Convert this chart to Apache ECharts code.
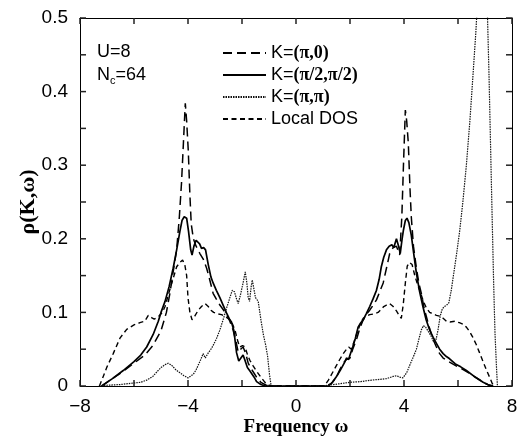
<!DOCTYPE html>
<html>
<head>
<meta charset="utf-8">
<script src="https://cdn.jsdelivr.net/npm/echarts@6/dist/echarts.min.js"></script>
<style>html,body{margin:0;padding:0;background:#fff}#c{width:532px;height:439px}</style>
</head>
<body>
<div id="c"></div>
<script>
// K=(pi,0)
const piZeroW = [-7.2,-6.8,-6.4,-6.0,-5.6,-5.3,-5.0,-4.8,-4.67,-4.55,-4.42,-4.32,-4.24,-4.17,-4.1,-4.05,-3.99,-3.93,-3.88,-3.8,-3.7,-3.56,-3.43,-3.31,-3.2,-3.07,-2.95,-2.82,-2.7,-2.57,-2.45,-2.33,-2.22,-2.14,-2.05,-1.96,-1.87,-1.77,-1.6,-1.46,-1.3,-1.1,-1.0,
  1.1,1.3,1.5,1.62,1.75,1.87,2.0,2.1,2.24,2.36,2.49,2.6,2.73,2.86,2.98,3.1,3.23,3.35,3.47,3.6,3.72,3.84,3.92,3.98,4.05,4.1,4.16,4.22,4.27,4.35,4.46,4.55,4.64,4.75,4.83,4.95,5.08,5.2,5.32,5.45,5.57,5.8,6.0,6.3,6.6,6.9,7.1,7.3];
const piZeroV = [0,0.01,0.02,0.031,0.042,0.055,0.075,0.1,0.126,0.155,0.185,0.23,0.276,0.33,0.384,0.36,0.32,0.26,0.22,0.2,0.19,0.18,0.172,0.16,0.145,0.126,0.118,0.11,0.104,0.097,0.088,0.076,0.06,0.046,0.05,0.053,0.045,0.031,0.02,0.012,0.005,0.001,0,
  0,0.003,0.012,0.022,0.031,0.036,0.038,0.05,0.063,0.078,0.09,0.097,0.103,0.11,0.117,0.128,0.14,0.16,0.18,0.188,0.19,0.178,0.23,0.3,0.375,0.36,0.33,0.27,0.23,0.19,0.16,0.14,0.126,0.105,0.094,0.078,0.063,0.053,0.044,0.038,0.035,0.03,0.026,0.02,0.013,0.006,0.002,0];

// K=(pi/2,pi/2)
const piHalfW = [-7.2,-6.8,-6.4,-6.0,-5.75,-5.53,-5.29,-5.1,-5.0,-4.85,-4.7,-4.55,-4.42,-4.3,-4.22,-4.14,-4.05,-3.98,-3.9,-3.85,-3.78,-3.7,-3.64,-3.57,-3.5,-3.42,-3.35,-3.25,-3.15,-3.07,-2.95,-2.82,-2.7,-2.57,-2.45,-2.39,-2.3,-2.2,-2.12,-2.05,-1.96,-1.9,-1.8,-1.7,-1.55,-1.46,-1.3,-1.15,
  1.2,1.35,1.5,1.65,1.8,1.87,1.95,2.0,2.1,2.2,2.3,2.4,2.49,2.6,2.73,2.85,2.98,3.08,3.16,3.25,3.35,3.45,3.55,3.62,3.72,3.8,3.86,3.93,3.98,4.05,4.11,4.18,4.27,4.36,4.46,4.58,4.7,4.82,4.95,5.08,5.2,5.32,5.45,5.57,5.69,5.9,6.1,6.31,6.6,6.93,7.15,7.3];
const piHalfV = [0,0.01,0.021,0.033,0.042,0.053,0.07,0.088,0.1,0.115,0.135,0.16,0.185,0.21,0.225,0.23,0.228,0.21,0.185,0.178,0.19,0.198,0.2,0.193,0.187,0.188,0.185,0.165,0.148,0.14,0.13,0.12,0.11,0.099,0.09,0.087,0.075,0.045,0.034,0.035,0.042,0.036,0.025,0.02,0.012,0.006,0.002,0,
  0,0.005,0.013,0.022,0.032,0.038,0.036,0.042,0.053,0.065,0.08,0.086,0.09,0.098,0.108,0.118,0.13,0.145,0.162,0.175,0.185,0.19,0.192,0.188,0.2,0.19,0.18,0.2,0.212,0.225,0.228,0.222,0.205,0.18,0.153,0.128,0.108,0.09,0.076,0.066,0.058,0.05,0.044,0.04,0.037,0.03,0.026,0.021,0.013,0.005,0.001,0];

// K=(pi,pi)
const piPiW = [-7.3,-7.0,-6.5,-6.03,-5.75,-5.53,-5.3,-5.16,-5.0,-4.85,-4.73,-4.6,-4.45,-4.3,-4.15,-4.0,-3.93,-3.8,-3.7,-3.55,-3.44,-3.36,-3.25,-3.15,-3.07,-2.95,-2.82,-2.7,-2.57,-2.45,-2.36,-2.28,-2.2,-2.14,-2.05,-1.96,-1.88,-1.82,-1.77,-1.72,-1.66,-1.62,-1.56,-1.5,-1.4,-1.3,-1.21,-1.12,-1.05,-0.98,-0.92,
  0.95,1.2,1.6,2.0,2.4,2.8,3.1,3.35,3.6,3.72,3.85,3.96,4.1,4.21,4.35,4.46,4.56,4.64,4.72,4.8,4.9,5.0,5.1,5.18,5.26,5.34,5.42,5.5,5.58,5.66,5.75,5.85,5.95,6.06,6.18,6.31,6.44,6.56,6.66,6.75,6.9,7.0,7.08,7.15,7.25,7.32,7.37,7.42,7.46];
const piPiV = [0,0.001,0.002,0.004,0.005,0.008,0.013,0.019,0.025,0.029,0.031,0.028,0.022,0.018,0.014,0.011,0.01,0.016,0.022,0.034,0.044,0.038,0.045,0.05,0.055,0.064,0.076,0.09,0.106,0.12,0.13,0.128,0.118,0.112,0.125,0.14,0.155,0.14,0.12,0.115,0.135,0.144,0.132,0.12,0.115,0.09,0.07,0.055,0.04,0.015,0,
  0,0.001,0.003,0.005,0.006,0.008,0.009,0.01,0.013,0.014,0.012,0.011,0.018,0.028,0.04,0.05,0.065,0.076,0.082,0.08,0.074,0.068,0.06,0.062,0.076,0.095,0.105,0.108,0.11,0.113,0.13,0.155,0.18,0.21,0.25,0.3,0.36,0.425,0.48,0.54,0.62,0.6,0.52,0.42,0.253,0.14,0.072,0.03,0];

// Local DOS
const localW = [-7.28,-7.15,-7.0,-6.77,-6.52,-6.27,-6.0,-5.78,-5.6,-5.47,-5.35,-5.25,-5.1,-4.95,-4.85,-4.72,-4.6,-4.5,-4.42,-4.3,-4.2,-4.12,-4.05,-4.0,-3.93,-3.85,-3.75,-3.62,-3.5,-3.37,-3.25,-3.15,-3.05,-2.9,-2.76,-2.6,-2.45,-2.35,-2.26,-2.15,-2.08,-1.98,-1.89,-1.8,-1.71,-1.6,-1.46,-1.3,-1.15,-1.0,-0.9,
  1.05,1.2,1.35,1.5,1.62,1.75,1.87,1.95,2.05,2.15,2.3,2.4,2.49,2.6,2.73,2.9,3.04,3.15,3.25,3.35,3.47,3.6,3.72,3.82,3.9,3.97,4.05,4.12,4.2,4.3,4.4,4.5,4.6,4.72,4.83,4.95,5.08,5.2,5.32,5.45,5.57,5.7,5.88,6.05,6.19,6.31,6.43,6.55,6.68,6.8,6.93,7.05,7.17,7.25,7.32];
const localV = [0,0.012,0.026,0.044,0.065,0.077,0.083,0.086,0.088,0.096,0.093,0.091,0.094,0.1,0.108,0.125,0.14,0.152,0.162,0.168,0.171,0.165,0.15,0.12,0.1,0.09,0.095,0.103,0.108,0.112,0.108,0.103,0.1,0.098,0.097,0.094,0.09,0.084,0.076,0.06,0.053,0.055,0.053,0.043,0.035,0.028,0.02,0.012,0.005,0.001,0,
  0,0.008,0.018,0.028,0.036,0.044,0.05,0.053,0.05,0.06,0.076,0.086,0.092,0.095,0.097,0.098,0.1,0.104,0.108,0.11,0.112,0.108,0.102,0.096,0.092,0.11,0.14,0.163,0.168,0.165,0.15,0.138,0.128,0.115,0.106,0.1,0.098,0.096,0.095,0.092,0.088,0.087,0.088,0.086,0.084,0.08,0.074,0.066,0.056,0.045,0.033,0.022,0.012,0.005,0];

// tick values
const xTicks = [-8,-4,0,4,8];
const yTicks = [0,0.1,0.2,0.3,0.4,0.5];
const xMinorTicks = [-8,-6,-4,-2,0,2,4,6,8];
const yMinorTicks = [0,0.05,0.1,0.15,0.2,0.25,0.3,0.35,0.4,0.45,0.5];

const X_MIN = -8, X_MAX = 8, Y_MIN = 0, Y_MAX = 0.5, TICK_LEN = 6;

const pairs = (w, v) => w.map((x, i) => [x, v[i]]);
const fmtX = v => xTicks.includes(v) ? String(v).replace('-', '\u2212') : '';
const fmtY = v => {
  const r = Math.round(v * 100) / 100;
  return yTicks.some(t => Math.abs(t - r) < 1e-9) ? (r === 0 ? '0' : r.toFixed(1)) : '';
};
const sans = 'Liberation Sans, Arial, sans-serif';
const serif = 'Liberation Serif, Times New Roman, serif';

// inward tick marks on all four sides, positioned through the axis scales
const tickData = xMinorTicks.map(x => [x, Y_MIN, 0]).concat(yMinorTicks.map(y => [X_MIN, y, 1]));
function renderTick(params, api) {
  const kind = api.value(2);
  const st = {stroke: '#222', lineWidth: 1.5};
  if (kind === 0) {
    const x = api.value(0);
    const b = api.coord([x, Y_MIN]);
    const t = api.coord([x, Y_MAX]);
    return {type: 'group', children: [
      {type: 'line', shape: {x1: b[0], y1: b[1], x2: b[0], y2: b[1] - TICK_LEN}, style: st},
      {type: 'line', shape: {x1: t[0], y1: t[1], x2: t[0], y2: t[1] + TICK_LEN}, style: st}
    ]};
  }
  const y = api.value(1);
  const l = api.coord([X_MIN, y]);
  const r = api.coord([X_MAX, y]);
  return {type: 'group', children: [
    {type: 'line', shape: {x1: l[0], y1: l[1], x2: l[0] + TICK_LEN, y2: l[1]}, style: st},
    {type: 'line', shape: {x1: r[0], y1: r[1], x2: r[0] - TICK_LEN, y2: r[1]}, style: st}
  ]};
}

const chart = echarts.init(document.getElementById('c'), null, {renderer: 'canvas'});
const common = () => ({
  axisLine: {show: true, onZero: false, lineStyle: {color: '#000', width: 1}},
  axisTick: {show: false},
  splitLine: {show: false},
  nameMoveOverlap: false
});
const legendRich = {
  s: {fontFamily: sans, fontSize: 18, color: '#000'},
  b: {fontFamily: serif, fontSize: 18, fontWeight: 'bold', color: '#000'}
};
chart.setOption({
  animation: false,
  backgroundColor: '#fff',
  grid: {left: 80, right: 20, top: 18, bottom: 53, show: false, outerBoundsMode: 'none', containLabel: false},
  title: [
    {text: 'U=8', left: 97, top: 43, padding: 0, textStyle: {fontFamily: sans, fontSize: 18, fontWeight: 'normal', color: '#000'}},
    {text: 'N{sub|c}=64', left: 97, top: 65, padding: 0, textStyle: {fontFamily: sans, fontSize: 18, fontWeight: 'normal', color: '#000',
      rich: {sub: {fontFamily: sans, fontSize: 11, verticalAlign: 'bottom', padding: [10, 0, 0, 0], color: '#000'}}}}
  ],
  legend: {
    orient: 'vertical', left: 222, top: 44, padding: 0, itemWidth: 43, itemHeight: 14, itemGap: 4,
    itemStyle: {opacity: 0},
    textStyle: {fontFamily: sans, fontSize: 18, color: '#000', lineHeight: 18, rich: legendRich},
    formatter: name => {
      const m = {
        'K=(π,0)': '{s|K=}{b|(π,0)}',
        'K=(π/2,π/2)': '{s|K=}{b|(π/2,π/2)}',
        'K=(π,π)': '{s|K=}{b|(π,π)}',
        'Local DOS': '{s|Local DOS}'
      };
      return m[name];
    },
    data: ['K=(π,0)', 'K=(π/2,π/2)', 'K=(π,π)', 'Local DOS']
  },
  xAxis: [
    Object.assign({type: 'value', min: X_MIN, max: X_MAX, interval: 2, position: 'bottom',
      name: 'Frequency ω', nameLocation: 'middle', nameGap: 32,
      nameTextStyle: {fontFamily: serif, fontSize: 19, fontWeight: 'bold', color: '#000'},
      axisLabel: {formatter: fmtX, margin: 11, fontFamily: sans, fontSize: 19, color: '#000'}}, common()),
    Object.assign({type: 'value', min: X_MIN, max: X_MAX, interval: 2, position: 'top', axisLabel: {show: false}}, common())
  ],
  yAxis: [
    Object.assign({type: 'value', min: Y_MIN, max: Y_MAX, interval: 0.05, position: 'left',
      name: 'ρ(K,ω)', nameLocation: 'middle', nameGap: 41, nameRotate: 90,
      nameTextStyle: {fontFamily: serif, fontSize: 22, fontWeight: 'bold', color: '#000'},
      axisLabel: {formatter: fmtY, margin: 12, fontFamily: sans, fontSize: 19, color: '#000'}}, common()),
    Object.assign({type: 'value', min: Y_MIN, max: Y_MAX, interval: 0.05, position: 'right', axisLabel: {show: false}}, common())
  ],
  series: [
    {name: 'K=(π,0)', type: 'line', data: pairs(piZeroW, piZeroV), showSymbol: false, symbol: 'none', clip: true,
      lineStyle: {color: '#000', width: 1.5, type: [9, 5]}, itemStyle: {color: '#000'}},
    {name: 'K=(π/2,π/2)', type: 'line', data: pairs(piHalfW, piHalfV), showSymbol: false, symbol: 'none', clip: true,
      lineStyle: {color: '#000', width: 1.7, type: 'solid'}, itemStyle: {color: '#000'}},
    {name: 'K=(π,π)', type: 'line', data: pairs(piPiW, piPiV), showSymbol: false, symbol: 'none', clip: true,
      lineStyle: {color: '#111', width: 1.2, type: [1.5, 1]}, itemStyle: {color: '#111'}},
    {name: 'Local DOS', type: 'line', data: pairs(localW, localV), showSymbol: false, symbol: 'none', clip: true,
      lineStyle: {color: '#000', width: 1.4, type: [5, 3.5]}, itemStyle: {color: '#000'}},
    {name: 'ticks', type: 'custom', data: tickData, renderItem: renderTick, clip: false, silent: true, z: 5,
      encode: {x: 0, y: 1}}
  ]
});
</script>
</body>
</html>
